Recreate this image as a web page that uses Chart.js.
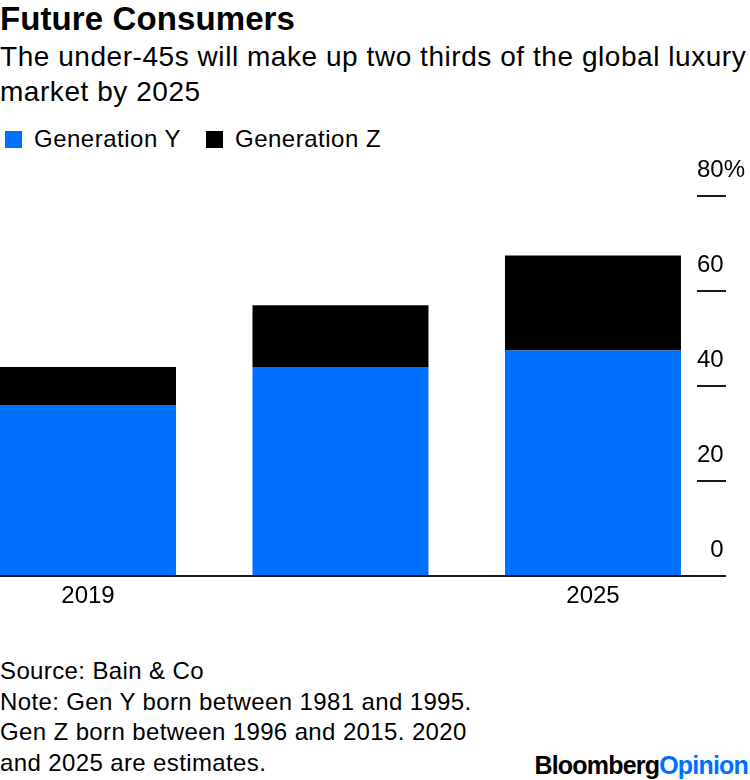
<!DOCTYPE html>
<html>
<head>
<meta charset="utf-8">
<script src="https://cdn.jsdelivr.net/npm/chart.js@4"></script>
<style>
  html, body { margin:0; padding:0; background:#fff; width:750px; height:780px; overflow:hidden; }
  body { font-family:"Liberation Sans", Arial, sans-serif; color:#000; position:relative; }
  #title { position:absolute; left:0; top:0px; font-size:33px; font-weight:bold; letter-spacing:0.1px; white-space:nowrap; }
  #subtitle { position:absolute; left:0; top:39px; width:760px; font-size:28px; line-height:35px; letter-spacing:0.55px; white-space:nowrap; }
  #legend { position:absolute; left:5px; top:125px; font-size:24px; letter-spacing:0.5px; display:flex; }
  .item { display:flex; align-items:center; margin-right:25px; }
  .box { width:17px; height:17px; margin-right:12px; }
  #wrap { position:absolute; left:0; top:150px; width:750px; height:470px; }
  #notes { position:absolute; left:0; top:656px; font-size:24px; line-height:30.7px; letter-spacing:0.38px; white-space:nowrap; }
  #logo { position:absolute; right:2px; top:751px; font-size:25px; font-weight:bold; letter-spacing:-0.8px; }
</style>
</head>
<body>

<div id="title">Future Consumers</div>
<div id="subtitle">The under-45s will make up two thirds of the global luxury<br>market by 2025</div>
<div id="legend"></div>

<div id="wrap"><canvas id="chart" width="750" height="470"></canvas></div>

<div id="notes">Source: Bain &amp; Co<br>Note: Gen Y born between 1981 and 1995.<br>Gen Z born between 1996 and 2015. 2020<br>and 2025 are estimates.</div>
<div id="logo">Bloomberg<span style="color:#0070ff">Opinion</span></div>

<script>

// ==========================================================
// Data
// ==========================================================

const years = ["2019", "2020", "2025"];

const shownYears = ["2019", "2025"];

const genY = [36, 44, 47.5];

const genZ = [8, 13, 20];

const seriesNames = ["Generation Y", "Generation Z"];

const seriesColors = ["#0070ff", "#000000"];

const yTicks = [0, 20, 40, 60, 80];

// ==========================================================
// Legend
// ==========================================================

const legend = document.getElementById("legend");

seriesNames.forEach((name, i) => {

    const item = document.createElement("div");
    item.className = "item";

    const box = document.createElement("div");
    box.className = "box";
    box.style.background = seriesColors[i];

    const label = document.createElement("span");
    label.textContent = name;

    item.appendChild(box);
    item.appendChild(label);
    legend.appendChild(item);

});

// ==========================================================
// Chart
// ==========================================================

const ctx = document.getElementById("chart").getContext("2d");

const tickFont = { family: "Liberation Sans", size: 24 };

new Chart(ctx, {

    type: "bar",

    data: {

        datasets: [genY, genZ].map((values, i) => ({

            label: seriesNames[i],

            data: values.map((v, k) => ({ x: k, y: v })),

            backgroundColor: seriesColors[i],

            stack: "all",

            barPercentage: 0.697,

            categoryPercentage: 1

        }))

    },

    options: {

        responsive: false,

        animation: false,

        layout: { padding: { top: 46, left: 0, right: 0, bottom: 0 } },

        plugins: {

            legend: { display: false },

            tooltip: { enabled: false }

        },

        scales: {

            x: {

                type: "linear",

                offset: false,

                min: -0.3485,

                max: 2.412,

                afterBuildTicks: scale => {

                    scale.ticks = years.map((y, k) => ({ value: k }));

                },

                afterFit: scale => { scale.height = 44; },

                grid: { display: false, drawTicks: false, offset: false },

                border: { display: true, color: "#1a1a1a", width: 2 },

                ticks: {

                    font: tickFont,

                    color: "#000",

                    padding: 6,

                    maxRotation: 0,

                    autoSkip: false,

                    callback: v => shownYears.includes(years[v]) ? years[v] : ""

                }

            },

            y: {

                position: "right",

                stacked: true,

                min: 0,

                max: 80,

                afterBuildTicks: scale => {

                    scale.ticks = yTicks.map(v => ({ value: v }));

                },

                afterFit: scale => { scale.width = 53; },

                border: { display: false },

                grid: {

                    drawOnChartArea: false,

                    drawTicks: true,

                    tickLength: 29,

                    color: "#1a1a1a",

                    lineWidth: 2

                },

                ticks: {

                    font: tickFont,

                    color: "#000",

                    padding: -29,

                    labelOffset: -26,

                    callback: v => v === 80 ? "80%" : (v < 10 ? "\u2007" + v : String(v))

                }

            }

        }

    }

});

</script>
</body>
</html>
